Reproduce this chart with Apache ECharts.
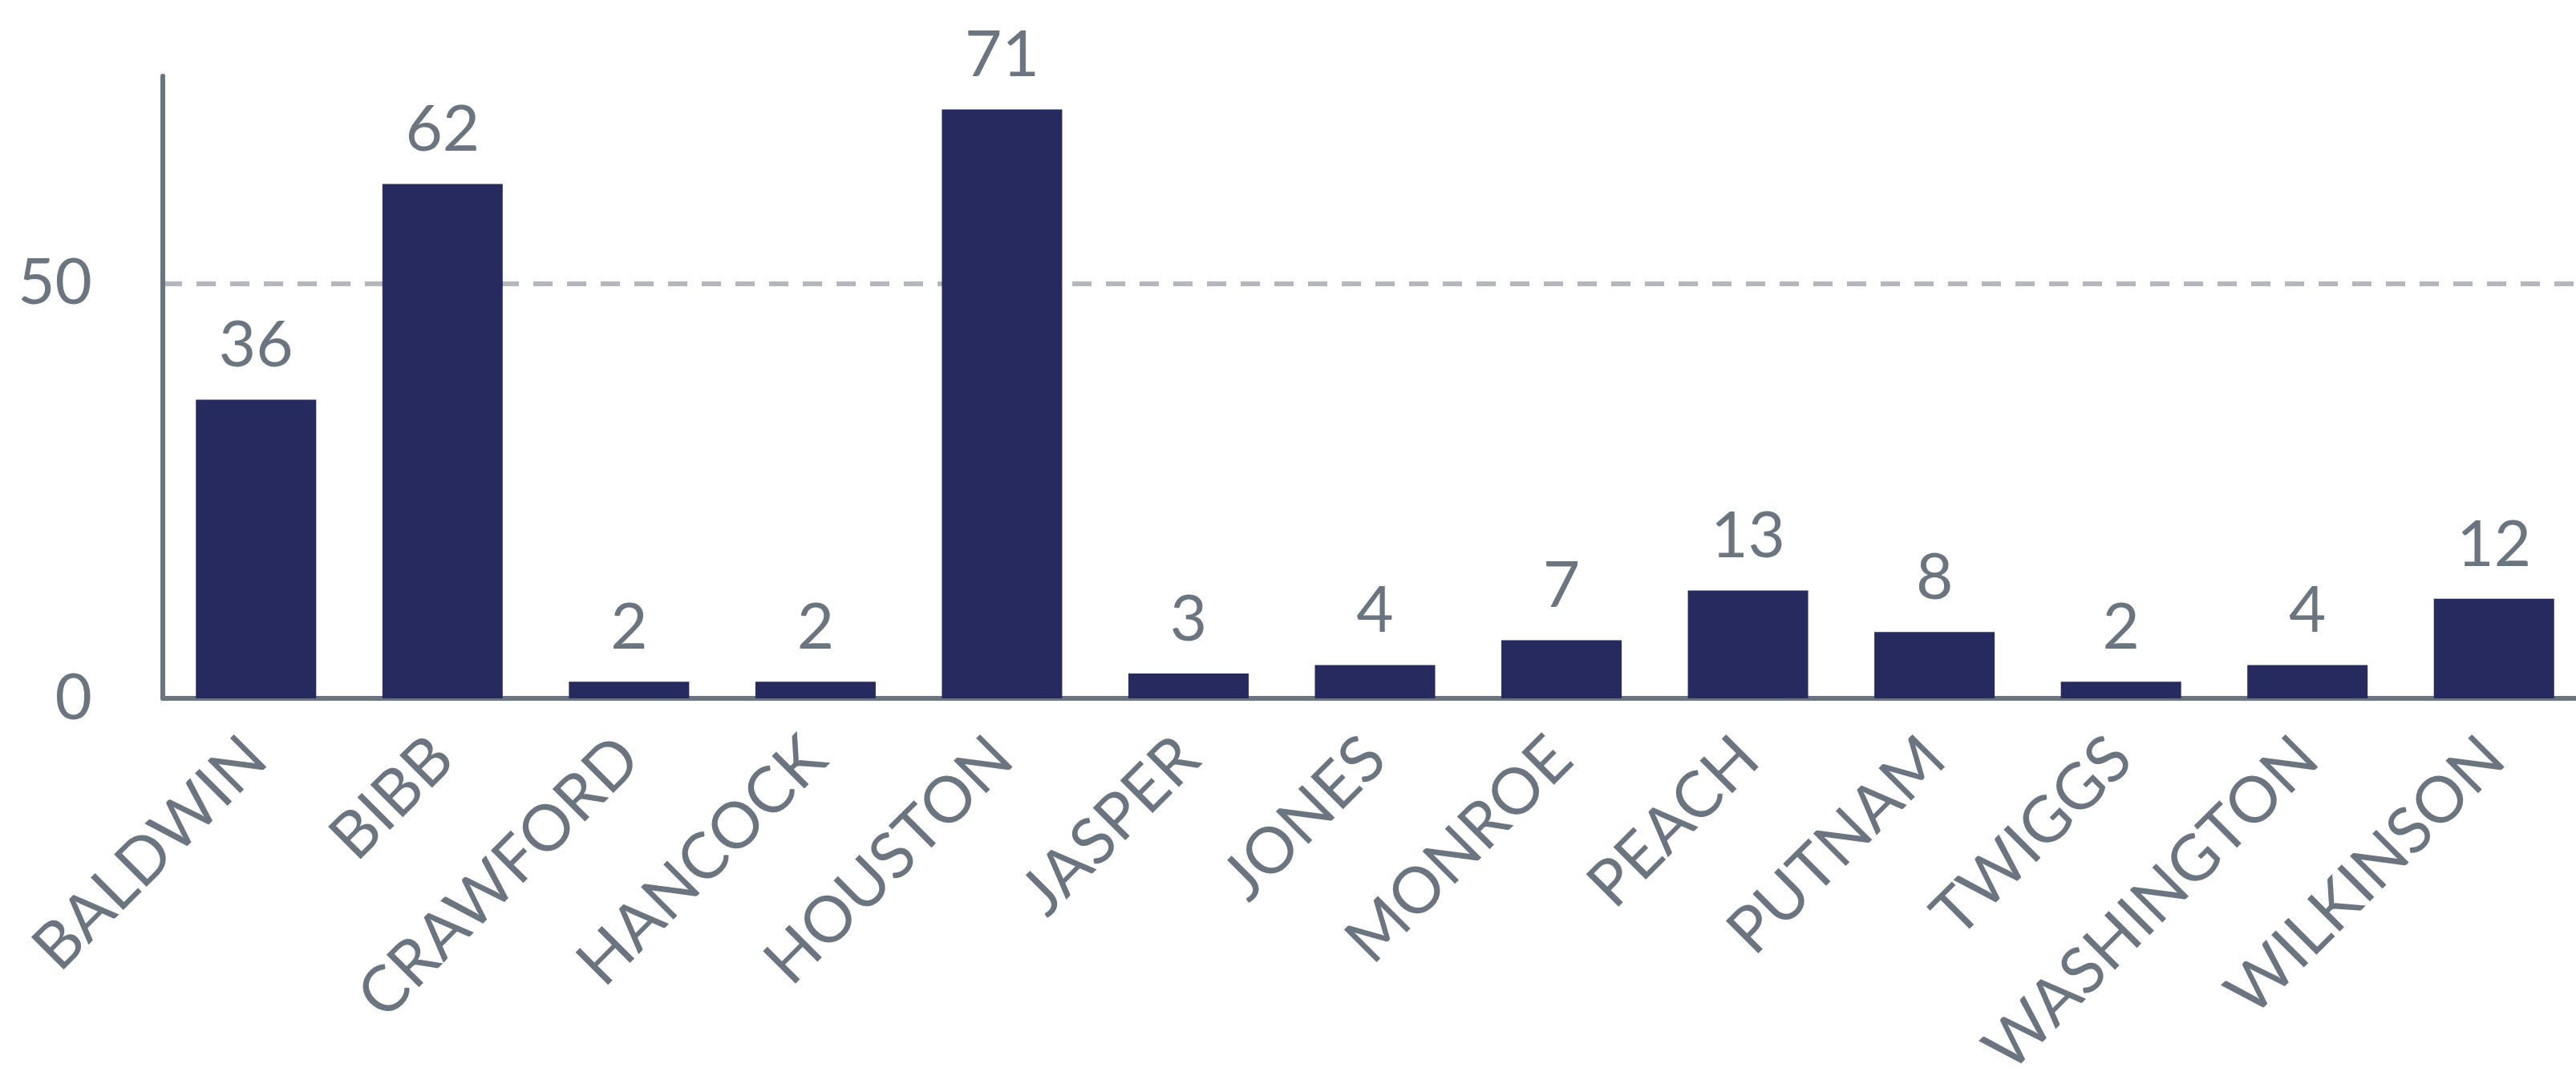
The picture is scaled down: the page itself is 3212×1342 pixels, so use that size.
<!DOCTYPE html>
<html>
<head>
<meta charset="utf-8">
<script src="https://cdn.jsdelivr.net/npm/echarts@6/dist/echarts.min.js"></script>
<style>
html,body{margin:0;padding:0;background:#fff;}
#chart{width:3212px;height:1342px;}
</style>
</head>
<body>
<div id="chart"></div>
<script>
const categories = ['BALDWIN','BIBB','CRAWFORD','HANCOCK','HOUSTON','JASPER','JONES','MONROE','PEACH','PUTNAM','TWIGGS','WASHINGTON','WILKINSON'];
const values = [36, 62, 2, 2, 71, 3, 4, 7, 13, 8, 2, 4, 12];
const yTicks = [0, 50];

const textColor = '#6b7580';
const chart = echarts.init(document.getElementById('chart'), null, {renderer:'canvas'});
chart.setOption({
  animation: false,
  backgroundColor: '#ffffff',
  textStyle: {fontFamily: 'Lato'},
  grid: {left: 203, top: 95, bottom: 471, width: 3023, containLabel: false, outerBoundsMode: 'none'},
  xAxis: {
    type: 'category',
    data: categories,
    axisLine: {show: true, lineStyle: {color: '#6b7580', width: 6}},
    axisTick: {show: false},
    axisLabel: {rotate: 45, margin: 62, fontSize: 80, color: textColor, fontFamily: 'Lato', interval: 0}
  },
  yAxis: {
    type: 'value',
    min: 0, max: 75, interval: 50,
    axisLine: {show: true, lineStyle: {color: '#6b7580', width: 6}},
    axisTick: {show: false},
    axisLabel: {
      margin: 88, fontSize: 80, color: textColor, fontFamily: 'Lato',
      showMaxLabel: false,
      formatter: v => yTicks.includes(v) ? String(v) : ''
    },
    splitLine: {show: true, showMinLine: false, showMaxLine: false, lineStyle: {color: '#b4b7bc', width: 6, type: [24, 18]}}
  },
  series: [{
    type: 'bar',
    data: values,
    barWidth: 150,
    itemStyle: {color: '#262a5e'},
    label: {show: true, position: 'top', distance: 27, fontSize: 80, color: textColor, fontFamily: 'Lato'}
  }]
});
</script>
</body>
</html>
